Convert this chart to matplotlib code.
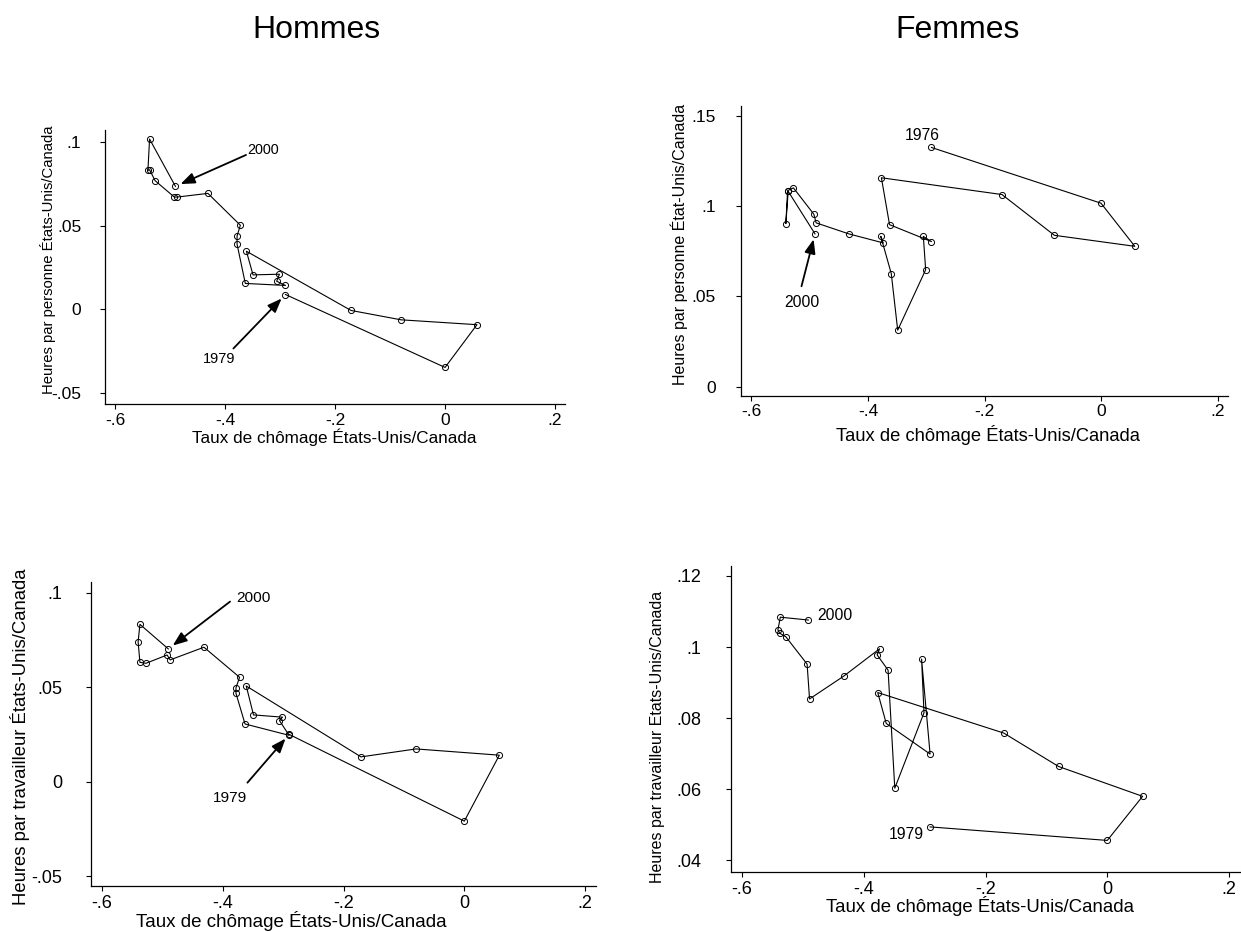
import matplotlib

matplotlib.use("Agg")
import matplotlib.pyplot as plt

plt.rcParams["font.family"] = ["Liberation Sans", "DejaVu Sans"]

# Unemployment ratio US/Canada (x), 22 annual points, 1979-2000
hommes_x = [-0.290, 0.000, 0.058, -0.080, -0.171, -0.361, -0.349, -0.301, -0.306, -0.290, -0.363,
            -0.378, -0.378, -0.372, -0.431, -0.487, -0.492, -0.527, -0.537, -0.540, -0.537, -0.490]
femmes_x = [-0.291, 0.000, 0.058, -0.080, -0.170, -0.377, -0.363, -0.291, -0.305, -0.301, -0.349,
            -0.360, -0.378, -0.374, -0.433, -0.489, -0.493, -0.528, -0.538, -0.541, -0.537, -0.491]

hommes_personne = [0.0089, -0.0346, -0.0091, -0.0062, -0.0006, 0.0347, 0.0206, 0.0210, 0.0168, 0.0143, 0.0155,
                   0.0389, 0.0438, 0.0502, 0.0692, 0.0670, 0.0670, 0.0768, 0.0833, 0.0829, 0.1016, 0.0734]
hommes_travailleur = [0.0250, -0.0209, 0.0140, 0.0173, 0.0131, 0.0506, 0.0353, 0.0341, 0.0323, 0.0245, 0.0305,
                      0.0467, 0.0497, 0.0552, 0.0711, 0.0644, 0.0670, 0.0626, 0.0631, 0.0740, 0.0832, 0.0702]
femmes_personne = [0.1326, 0.1017, 0.0778, 0.0839, 0.1065, 0.1158, 0.0898, 0.0804, 0.0833, 0.0648, 0.0313,
                   0.0626, 0.0833, 0.0797, 0.0847, 0.0908, 0.0956, 0.1102, 0.1087, 0.0904, 0.1083, 0.0847]
femmes_travailleur = [0.0494, 0.0456, 0.0580, 0.0664, 0.0758, 0.0872, 0.0785, 0.0699, 0.0966, 0.0815, 0.0603,
                      0.0935, 0.0978, 0.0995, 0.0918, 0.0854, 0.0952, 0.1029, 0.1039, 0.1048, 0.1084, 0.1076]

x_ticks = [-0.6, -0.4, -0.2, 0.0, 0.2]
xlabel = "Taux de chômage États-Unis/Canada"

W, H = 1241, 932


def stata_fmt(v):
    # Stata style tick labels: no leading zero (.05, -.6)
    s = ("%.2f" % v).rstrip("0").rstrip(".")
    if s in ("-0", ""):
        return "0"
    return s.replace("0.", ".")


def make_axes(fig, left, top, right, bottom):
    return fig.add_axes([left / W, 1 - bottom / H, (right - left) / W, (bottom - top) / H])


def style(ax, yticks, ylim, tick_fs, ypad, xpad=3.2):
    ax.set_xlim(-0.618, 0.218)
    ax.set_ylim(*ylim)
    ax.set_xticks(x_ticks)
    ax.set_xticklabels([stata_fmt(t) for t in x_ticks])
    ax.set_yticks(yticks)
    ax.set_yticklabels([stata_fmt(t) for t in yticks])
    for side in ("top", "right"):
        ax.spines[side].set_visible(False)
    for side in ("left", "bottom"):
        ax.spines[side].set_linewidth(0.9)
    ax.tick_params(axis="both", direction="out", length=3.6, width=0.8, labelsize=tick_fs)
    ax.tick_params(axis="x", pad=xpad)
    ax.tick_params(axis="y", pad=ypad)


def draw(ax, x, y):
    ax.plot(x, y, "-o", color="black", lw=0.8, ms=4.4, mfc="none", mec="black", mew=0.7)


def arrow(ax, x, y, tail):
    ax.annotate("", xy=(x, y), xytext=tail, textcoords="offset pixels",
                arrowprops=dict(arrowstyle="-|>,head_length=0.85,head_width=0.33", mutation_scale=10,
                                color="black", lw=1.3, shrinkA=0, shrinkB=4))


def label(ax, x, y, txt, off, ha, fs):
    ax.annotate(txt, xy=(x, y), xytext=off, textcoords="offset pixels", ha=ha, va="center", fontsize=fs)


def fig_text(fig, x, y, txt, fs, rot=0):
    fig.text(x / W, 1 - y / H, txt, fontsize=fs, rotation=rot, ha="center", va="center")


fig = plt.figure(figsize=(12.41, 9.32), dpi=100)

fig.text(316.6 / W, 1 - 38.5 / H, "Hommes", fontsize=23, ha="center", va="baseline")
fig.text(958 / W, 1 - 38.5 / H, "Femmes", fontsize=23, ha="center", va="baseline")

# Hommes, heures par personne
ax1 = make_axes(fig, 105, 130, 565, 404)
draw(ax1, hommes_x, hommes_personne)
style(ax1, [-0.05, 0, 0.05, 0.1], (-0.0564, 0.107), 12.5, 13.5)
arrow(ax1, hommes_x[-1], hommes_personne[-1], (70.6, 31.4))
label(ax1, hommes_x[-1], hommes_personne[-1], "2000", (72.3, 36.5), "left", 10.4)
arrow(ax1, hommes_x[0], hommes_personne[0], (-52.1, -54))
label(ax1, hommes_x[0], hommes_personne[0], "1979", (-66.6, -64), "center", 10.5)
fig_text(fig, 334.6, 437, xlabel, 12.3)
fig_text(fig, 48, 259.5, "Heures par personne États-Unis/Canada", 10.7, 90)

# Femmes, heures par personne
ax2 = make_axes(fig, 741, 106, 1228, 396)
draw(ax2, femmes_x, femmes_personne)
style(ax2, [0, 0.05, 0.1, 0.15], (-0.0052, 0.1556), 12.5, 14.5, xpad=2.5)
label(ax2, femmes_x[0], femmes_personne[0], "1976", (-9.2, 11.5), "center", 11.3)
arrow(ax2, femmes_x[-1], femmes_personne[-1], (-13.5, -52.4))
label(ax2, femmes_x[-1], femmes_personne[-1], "2000", (-13.2, -68.5), "center", 11.3)
fig_text(fig, 988, 435, xlabel, 13.2)
fig_text(fig, 679, 244, "Heures par personne État-Unis/Canada", 11.5, 90)

# Hommes, heures par travailleur
ax3 = make_axes(fig, 91, 582, 596, 886)
draw(ax3, hommes_x, hommes_travailleur)
style(ax3, [-0.05, 0, 0.05, 0.1], (-0.0552, 0.1056), 13, 17)
arrow(ax3, hommes_x[-1], hommes_travailleur[-1], (61.7, 47.3))
label(ax3, hommes_x[-1], hommes_travailleur[-1], "2000", (68.4, 51), "left", 11.1)
arrow(ax3, hommes_x[0], hommes_travailleur[0], (-41.7, -48.3))
label(ax3, hommes_x[0], hommes_travailleur[0], "1979", (-58.7, -63.5), "center", 11.1)
fig_text(fig, 291, 921, xlabel, 13.5)
fig_text(fig, 20.5, 736.7, "Heures par travailleur États-Unis/Canada", 13.3, 90)

# Femmes, heures par travailleur
ax4 = make_axes(fig, 731, 566, 1240, 871.7)
draw(ax4, femmes_x, femmes_travailleur)
style(ax4, [0.04, 0.06, 0.08, 0.1, 0.12], (0.0368, 0.1228), 13, 18)
label(ax4, femmes_x[-1], femmes_travailleur[-1], "2000", (8.7, 5), "left", 11.3)
label(ax4, femmes_x[0], femmes_travailleur[0], "1979", (-6.7, -7.5), "right", 11.3)
fig_text(fig, 980, 906, xlabel, 13.4)
fig_text(fig, 657.5, 737, "Heures par travailleur Etats-Unis/Canada", 11.5, 90)

fig.savefig("out.png", dpi=100)
